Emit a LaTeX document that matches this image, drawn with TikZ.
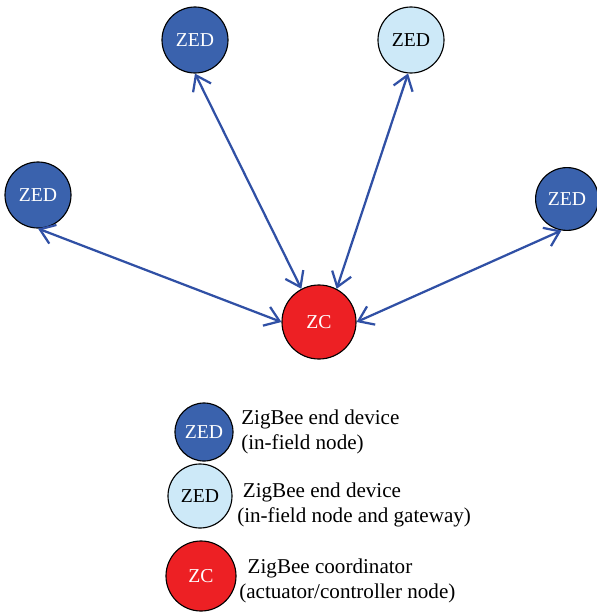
\documentclass[tikz,border=0pt]{standalone}
\usepackage{fontspec}
\setmainfont{Liberation Serif}
\usetikzlibrary{arrows.meta}
\definecolor{zeddark}{RGB}{58,98,173}
\definecolor{zedlight}{RGB}{205,233,248}
\definecolor{zcred}{RGB}{237,32,36}
\definecolor{linkblue}{RGB}{48,80,165}

\begin{document}
\begin{tikzpicture}[x=0.025cm, y=-0.025cm,
  dev/.style = {circle, draw=black, line width=0.8pt, inner sep=0pt,
    font=\fontsize{14}{16}\selectfont},
  zed/.style = {dev, fill=zeddark, text=white, minimum size=1.65cm},
  gate/.style = {dev, fill=zedlight, text=black, minimum size=1.65cm},
  zc/.style = {dev, fill=zcred, text=white, minimum size=1.85cm},
  link/.style = {draw=linkblue, line width=1.6pt,
    {Straight Barb[length=3.5mm,width=5mm]}-{Straight Barb[length=3.5mm,width=5mm]}},
  legtext/.style = {anchor=west, align=left, inner sep=0pt,
    font=\fontsize{15}{18}\selectfont}]
\useasboundingbox (0,0) rectangle (597,613);
% network
\node[zed] (zedA) at (195,40) {ZED};
\node[gate] (zedB) at (411,40) {ZED};
\node[zed] (zedC) at (38,195) {ZED};
\node[zed, minimum size=1.57cm] (zedD) at (567,199) {ZED};
\node[zc] (coord) at (319,322) {ZC};
\draw[link] (zedA.south) -- (coord.118);
\draw[link] (zedB.-95) -- (coord.62);
\draw[link] (zedC.south) -- (coord.west);
\draw[link] (zedD.-100) -- (coord.east);
% legend
\node[zed, minimum size=1.45cm] (keyA) at (204,432) {ZED};
\node[gate, minimum size=1.6cm] (keyB) at (200,496) {ZED};
\node[zc, minimum size=1.75cm] (keyC) at (201,576) {ZC};
\node[legtext] (txtA) at (241,432) {ZigBee end device\\(in-field node)};
\node[legtext] (txtB) at (237,505) {\hspace*{4pt}ZigBee end device\\(in-field node and gateway)};
\node[legtext] (txtC) at (239,581) {\hspace*{6pt}ZigBee coordinator\\(actuator/controller node)};
\end{tikzpicture}
\end{document}
